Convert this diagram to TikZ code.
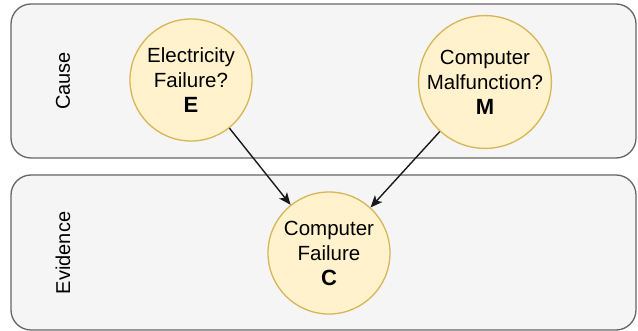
\documentclass[tikz,border=0pt]{standalone}
\usepackage{fontspec}
\setmainfont{Liberation Sans}
\usetikzlibrary{arrows.meta}
\definecolor{laneFill}{HTML}{F5F5F5}
\definecolor{laneLine}{HTML}{666666}
\definecolor{varFill}{HTML}{FFF2CC}
\definecolor{varLine}{HTML}{D6B656}
\newcommand{\varsym}[1]{{\fontsize{22}{27}\selectfont\bfseries #1}}
\tikzset{
  lane/.style={draw=laneLine, fill=laneFill, line width=1.3pt, rounded corners=20pt},
  lanelabel/.style={rotate=90, font=\fontsize{20}{24}\selectfont, text=black},
  var/.style={circle, draw=varLine, fill=varFill, line width=1.3pt, minimum size=122pt,
    inner sep=0pt, align=center, font=\fontsize{20.5}{25}\selectfont, text=black},
  link/.style={draw=black!90, line width=1.4pt, -{Stealth[length=12pt,width=10pt,inset=3pt]}}
}
\begin{document}
\begin{tikzpicture}[x=1pt,y=-1pt]
  \useasboundingbox (0,0) rectangle (638,331);
  % swimlanes
  \draw[lane] (11,4) rectangle (636,158);
  \draw[lane] (11,175) rectangle (636,330);
  \node[lanelabel] (cause) at (63,81) {Cause};
  \node[lanelabel] (evidence) at (63,253) {Evidence};
  % variables
  \node[var] (E) at (191,80) {Electricity\\Failure?\\\varsym{E}};
  \node[var] (M) at (485,82) {Computer\\Malfunction?\\\varsym{M}};
  \node[var] (C) at (329,253) {Computer\\Failure\\\varsym{C}};
  % dependencies
  \draw[link] (E) -- (C);
  \draw[link] (M) -- (C);
\end{tikzpicture}
\end{document}
